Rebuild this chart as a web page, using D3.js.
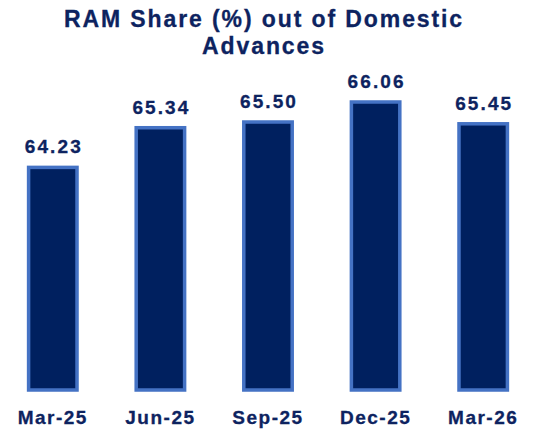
<!DOCTYPE html>
<html>
<head>
<meta charset="utf-8">
<script src="https://cdn.jsdelivr.net/npm/d3@7"></script>
<style>
  body { margin: 0; background: #fff; }
  text { font-family: "Liberation Sans", Arial, sans-serif; font-weight: bold; fill: #0d2360; }
</style>
</head>
<body>
<svg id="chart" width="546" height="432"></svg>
<script>
var periods = ["Mar-25", "Jun-25", "Sep-25", "Dec-25", "Mar-26"];
var ramShare = [64.23, 65.34, 65.50, 66.06, 65.45];
var titleLines = ["RAM Share (%) out of Domestic", "Advances"];

var svg = d3.select("#chart");
var W = 546, H = 432;
var baseY = 390;

var x = d3.scaleBand().domain(periods).range([-1, 537]).paddingInner(0.55).paddingOuter(0.275);
var y = d3.scaleLinear().domain([58, 66.06]).range([baseY, 102]);

// titolo (leggermente a sinistra del centro, come nel riferimento)
svg.selectAll(".title").data(titleLines).enter().append("text")
    .attr("class", "title")
    .attr("x", 264)
    .attr("y", function(d, i) { return 27 + i * 27; })
    .attr("text-anchor", "middle")
    .style("font-size", "23px")
    .style("letter-spacing", "1.9px")
    .style("stroke", "#0d2360")
    .style("stroke-width", "0.3px")
    .text(function(d) { return d; });

// barre
svg.selectAll(".bar").data(ramShare).enter().append("rect")
    .attr("class", "bar")
    .attr("x", function(d, i) { return x(periods[i]); })
    .attr("width", x.bandwidth())
    .attr("y", function(d) { return y(d); })
    .attr("height", function(d) { return baseY - y(d); })
    .attr("fill", "#00205f")
    .attr("stroke", "#4472c4")
    .attr("stroke-width", 3.5);

// etichette valori
svg.selectAll(".val").data(ramShare).enter().append("text")
    .attr("class", "val")
    .attr("x", function(d, i) { return x(periods[i]) + x.bandwidth() / 2 + 1; })
    .attr("y", function(d) { return y(d) - 14; })
    .attr("text-anchor", "middle")
    .style("font-size", "19px")
    .style("letter-spacing", "2.1px")
    .style("stroke", "#0d2360")
    .style("stroke-width", "0.3px")
    .text(function(d) { return d.toFixed(2); });

// asse x
var xAxis = svg.append("g").attr("transform", "translate(0," + baseY + ")")
    .call(d3.axisBottom(x).tickSize(0).tickPadding(21));
xAxis.select(".domain").remove();
xAxis.selectAll("text")
    .style("font-size", "19px")
    .style("letter-spacing", "1.5px")
    .style("stroke", "#0d2360")
    .style("stroke-width", "0.3px")
    .attr("fill", "#0d2360");
</script>
</body>
</html>
